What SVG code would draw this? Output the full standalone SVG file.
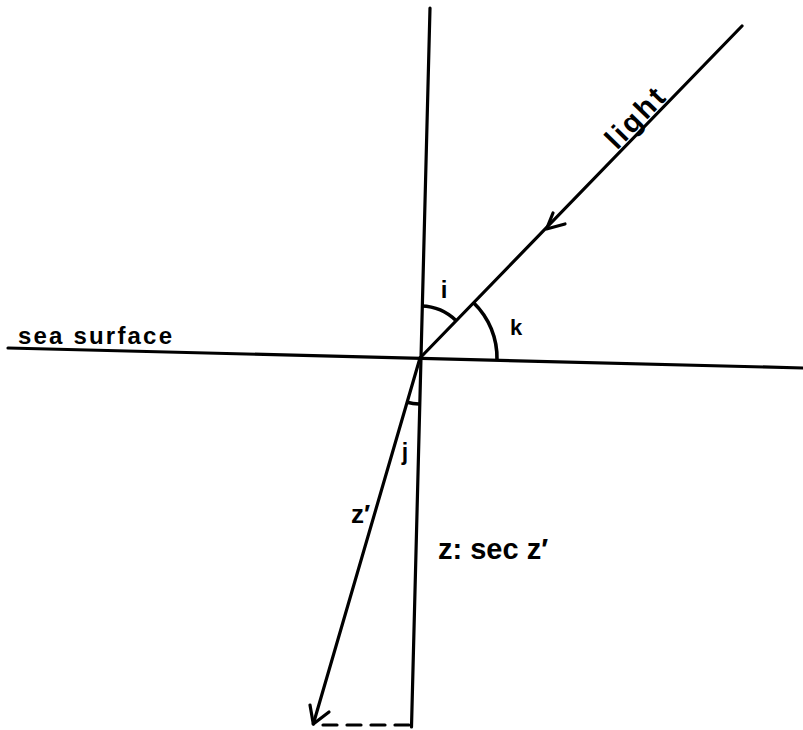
<svg xmlns="http://www.w3.org/2000/svg" width="803" height="730" viewBox="0 0 803 730">
<style>
.ln{stroke:#000;stroke-width:3.2;fill:none;stroke-linecap:round;stroke-linejoin:round}
.arc{stroke:#000;stroke-width:3.6;fill:none}
.t{font-family:"Liberation Sans","DejaVu Sans",Arial,sans-serif;font-weight:bold;fill:#000}
</style>
<rect width="803" height="730" fill="#fff"/>
<g id="lines">
<line id="sea-line" class="ln" x1="8" y1="348" x2="803" y2="368"/>
<line id="vertical" class="ln" x1="430" y1="8" x2="411.5" y2="727" stroke-width="3.6"/>
<line id="light-ray" class="ln" x1="742" y1="26" x2="420" y2="358"/>
<path id="light-arrow" class="ln" d="M553,213 L546.5,229 L565,224"/>
<line id="refracted-ray" class="ln" x1="420" y1="358" x2="313.3" y2="724"/>
<path id="refracted-arrow" class="ln" d="M310,705 L313.3,724 L329,712" stroke-width="4"/>
<line id="dashed" class="ln" x1="323" y1="725" x2="410" y2="725" stroke-dasharray="14 10" stroke-linecap="butt" stroke-width="3.5"/>
</g>
<g id="angles">
<path id="arc-i" class="arc" d="M421.5,306 A52,52 0 0 1 456.2,320.7"/>
<path id="arc-k" class="arc" d="M473.6,302.7 A77,77 0 0 1 497,360"/>
<path id="arc-j" class="arc" d="M407.1,402.2 A46,46 0 0 0 419,404" stroke-width="5"/>
</g>
<g id="labels">
<text class="t" x="18" y="344" font-size="24" textLength="154" lengthAdjust="spacing">sea surface</text>
<text class="t" transform="translate(642,125) rotate(-45.9)" x="0" y="0" font-size="29" text-anchor="middle" textLength="72" lengthAdjust="spacing">light</text>
<text class="t" x="444" y="298" font-size="24" text-anchor="middle">i</text>
<text class="t" x="516" y="335" font-size="22" text-anchor="middle">k</text>
<text class="t" x="405" y="460" font-size="23" text-anchor="middle">j</text>
<text class="t" x="351" y="523" font-size="26">z<tspan font-size="26">′</tspan></text>
<text class="t" x="438" y="559" font-size="29">z: sec z<tspan>′</tspan></text>
</g>
</svg>
